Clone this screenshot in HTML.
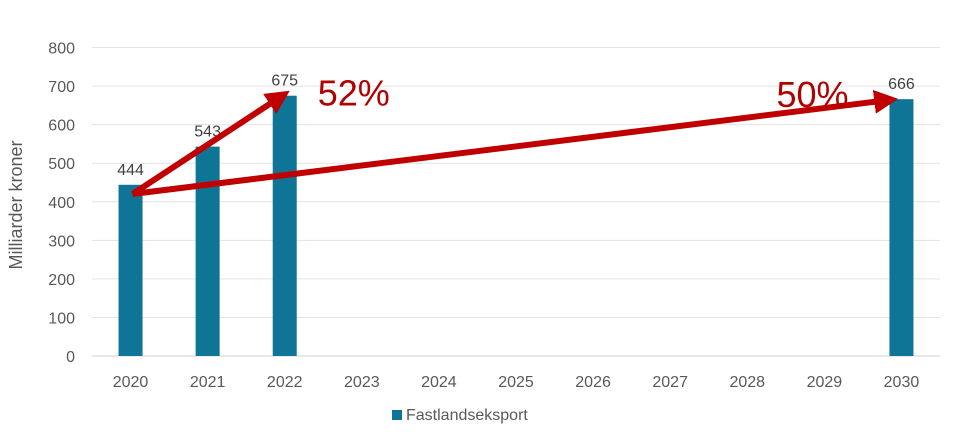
<!DOCTYPE html>
<html><head><meta charset="utf-8"><style>
html,body{margin:0;padding:0;background:#fff;}
svg{display:block;font-family:"Liberation Sans",Arial,sans-serif;}
</style></head><body>
<svg id="chart" width="960" height="444" viewBox="0 0 960 444">
<defs>
<marker id="ah" markerWidth="4" markerHeight="4" refX="2.2" refY="2" orient="auto" markerUnits="strokeWidth">
<path d="M0,0 L4,2 L0,4 z" fill="#c00000"/>
</marker>
</defs>
<g id="grid"></g><g id="bars"></g><g id="labels"></g><g id="arrows"></g>
<text x="22" y="205" transform="rotate(-90 22 205)" text-anchor="middle" font-size="18" fill="#595959">Milliarder kroner</text>
<g>
<rect x="392" y="410" width="10" height="10" fill="#0e7597"/>
<text x="406" y="420" font-size="16" fill="#595959">Fastlandseksport</text>
</g>
</svg>
<script>
const categories=["2020","2021","2022","2023","2024","2025","2026","2027","2028","2029","2030"];
const values=[444,543,675,null,null,null,null,null,null,null,666];
const yTicks=[0,100,200,300,400,500,600,700,800];
const arrowStartValue=420;
const arrowTargets=[{cat:"2022",value:675,label:"52%"},{cat:"2030",value:666,label:"50%"}];

const L=92,R=940,Y0=356,Ytop=47.5,YMAX=800;
const band=(R-L)/categories.length;
const x=c=>L+band*(categories.indexOf(c)+0.5);
const y=v=>Y0-(Y0-Ytop)*v/YMAX;
const NS="http://www.w3.org/2000/svg";
function mk(t,a,p){const e=document.createElementNS(NS,t);for(const k in a)e.setAttribute(k,a[k]);p.appendChild(e);return e;}
const grid=document.getElementById('grid'),bars=document.getElementById('bars'),labels=document.getElementById('labels'),arrows=document.getElementById('arrows');
yTicks.forEach(t=>{
 const ln=mk('line',{x1:L,x2:R,y1:y(t),y2:y(t),stroke:t===0?'#d0d0d0':'#e3e3e3','stroke-width':1},grid);
 
 
 const tx=mk('text',{x:75,y:y(t)+6,'text-anchor':'end','font-size':16,fill:'#595959'},grid);
 tx.textContent=t;
 
 
});
categories.forEach((c,i)=>{
 const tx=mk('text',{x:x(c),y:387,'text-anchor':'middle','font-size':16,fill:'#595959'},labels);
 tx.textContent=c;
 
 
 const v=values[i];
 if(v==null)return;
 const w=24;
 const r=mk('rect',{x:x(c)-w/2,y:y(v),width:w,height:Y0-y(v),fill:'#0e7597'},bars);
 
 
 const lb=mk('text',{x:x(c),y:y(v)-10,'text-anchor':'middle','font-size':16,fill:'#404040'},labels);
 lb.textContent=v;
 
 
});
const sx=x(categories[0])+2,sy=y(arrowStartValue);
arrowTargets.forEach((a,i)=>{
 const ex=x(a.cat)+(i===0?-4:-14),ey=y(a.value)+1;
 const ln=mk('line',{x1:sx,y1:sy,x2:ex,y2:ey,stroke:'#c00000','stroke-width':6,'marker-end':'url(#ah)'},arrows);
 
 
 const tx=mk('text',{x:i===0?x(a.cat)+33:x(a.cat)-125,y:y(a.value)+(i===0?10:8),'font-size':36,fill:'#b00000'},arrows);
 tx.textContent=a.label;
 
 
});
</script>
</body></html>
